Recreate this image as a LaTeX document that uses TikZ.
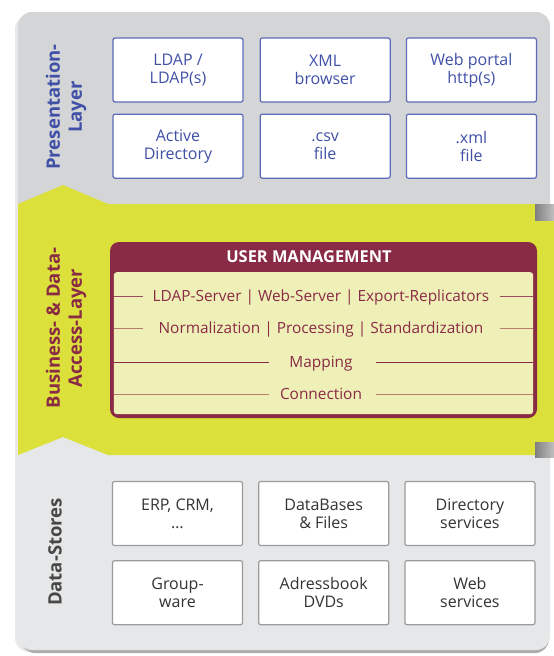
\documentclass[tikz,border=0pt]{standalone}
\usepackage{fontspec}
\setmainfont{Open Sans}
\usepackage{tikz}
\usetikzlibrary{positioning}
\definecolor{panelgray}{RGB}{212,213,215}
\definecolor{storegray}{RGB}{230,231,232}
\definecolor{lime}{RGB}{219,224,58}
\definecolor{paleyellow}{RGB}{238,240,184}
\definecolor{maroon}{RGB}{138,43,69}
\definecolor{lightline}{RGB}{180,125,112}
\definecolor{bluetext}{RGB}{64,80,166}
\definecolor{blueframe}{RGB}{92,106,184}
\definecolor{storetext}{RGB}{51,51,51}
\definecolor{storeframe}{RGB}{155,155,155}
\tikzstyle{showbox} = [rectangle, draw=blueframe, line width=1.2pt, fill=white, rounded corners=2pt, text=bluetext, align=center, font=\fontsize{16}{18}\selectfont, minimum width=130pt, minimum height=64pt, inner sep=0pt]
\tikzstyle{storebox} = [showbox, draw=storeframe, text=storetext]
\tikzstyle{layerlabel} = [rotate=90, align=center, inner sep=0pt, font=\bfseries\fontsize{18.5}{22}\selectfont]
\tikzstyle{umframe} = [rectangle, fill=maroon, rounded corners=9pt, minimum width=427pt, minimum height=176pt, inner sep=0pt]
\tikzstyle{umhead} = [text=white, inner sep=0pt, minimum height=30pt, font=\bfseries\fontsize{16.4}{18}\selectfont]
\tikzstyle{umrow} = [text=maroon, inner sep=0pt, text height=11pt, text depth=0pt, font=\fontsize{15.4}{18}\selectfont]
\tikzstyle{umline} = [draw=maroon, line width=1pt]

\begin{document}
\begin{tikzpicture}[x=1pt, y=-1pt]
\useasboundingbox (0,0) rectangle (554,656);

% layers =============================

% shadows, presentation panel, access layer, data-store panel
\fill[black!9, rounded corners=14pt] (15,15) rectangle (549,652);
\fill[black!32, rounded corners=14pt] (21,600) rectangle (549,653);
\fill[panelgray, rounded corners=14pt] (18,12) rectangle (550,235);
\fill[storegray, rounded corners=14pt] (18,440) rectangle (550,650);
\fill[lime] (18,204) -- (63,185) -- (108,204) -- (535,204) -- (535,220) -- (554,220)
  -- (554,442) -- (535,442) -- (535,455) -- (108,455) -- (63,437) -- (18,455) -- cycle;
\shade[left color=black!50, right color=black!25] (535,204) rectangle (554,220);
\shade[left color=black!50, right color=black!25] (535,442) rectangle (554,457);

% layer names
\node[layerlabel, text=bluetext] (presname) at (66,107) {Presentation-\\Layer};
\node[layerlabel, text=maroon] (accname) at (66,328) {Business- \& Data-\\Access-Layer};
\node[layerlabel, text=storetext!90] (storename) at (55,552) {Data-Stores};

% presentation layer
\node[showbox] (ldap) at (178,70) {LDAP /\\LDAP(s)};
\node[showbox, right=16pt of ldap] (xmlb) {XML\\browser};
\node[showbox, right=15pt of xmlb] (portal) {Web portal\\http(s)};
\node[showbox, below=11pt of ldap] (ad) {Active\\Directory};
\node[showbox, below=11pt of xmlb] (csv) {.csv\\file};
\node[showbox, below=11pt of portal] (xmlf) {.xml\\file};

% user management
\node[umframe] (um) at (323.5,330) {};
\node[umhead, anchor=north, xshift=-14.5pt] (umhead) at (um.north) {USER MANAGEMENT};
\fill[paleyellow, rounded corners=3pt] ([xshift=4pt]um.west |- umhead.south) rectangle ([shift={(-4pt,4pt)}]um.south east);

\node[umrow] (srv) at (321,296) {LDAP-Server | Web-Server | Export-Replicators};
\node[umrow] (norm) at (321,328) {Normalization | Processing | Standardization};
\node[umrow] (map) at (321,362) {Mapping};
\node[umrow] (conn) at (321,394) {Connection};

% row lines
\draw[umline, draw=maroon!85] ([xshift=4pt]um.west |- srv.center) -- ([xshift=-178pt]srv.center);
\draw[umline, draw=maroon!85] ([xshift=179pt]srv.center) -- ([xshift=-4pt]um.east |- srv.center);
\draw[umline, draw=lightline] ([xshift=4pt]um.west |- norm.center) -- ([xshift=-178pt]norm.center);
\draw[umline, draw=lightline] ([xshift=179pt]norm.center) -- ([xshift=-4pt]um.east |- norm.center);
\draw[umline] ([xshift=4pt]um.west |- map.center) -- ([xshift=-52pt]map.center);
\draw[umline] ([xshift=55pt]map.center) -- ([xshift=-4pt]um.east |- map.center);
\draw[umline, draw=lightline] ([xshift=4pt]um.west |- conn.center) -- ([xshift=-52pt]conn.center);
\draw[umline, draw=lightline] ([xshift=55pt]conn.center) -- ([xshift=-4pt]um.east |- conn.center);

% data stores
\node[storebox] (erp) at (177.5,513.5) {ERP, CRM,\\…};
\node[storebox, right=15pt of erp] (dbfiles) {DataBases\\\& Files};
\node[storebox, right=15pt of dbfiles] (dirsvc) {Directory\\services};
\node[storebox, below=14pt of erp] (groupware) {Group-\\ware};
\node[storebox, below=14pt of dbfiles] (addrbook) {Adressbook\\DVDs};
\node[storebox, below=14pt of dirsvc] (websvc) {Web\\services};

\end{tikzpicture}
\end{document}
